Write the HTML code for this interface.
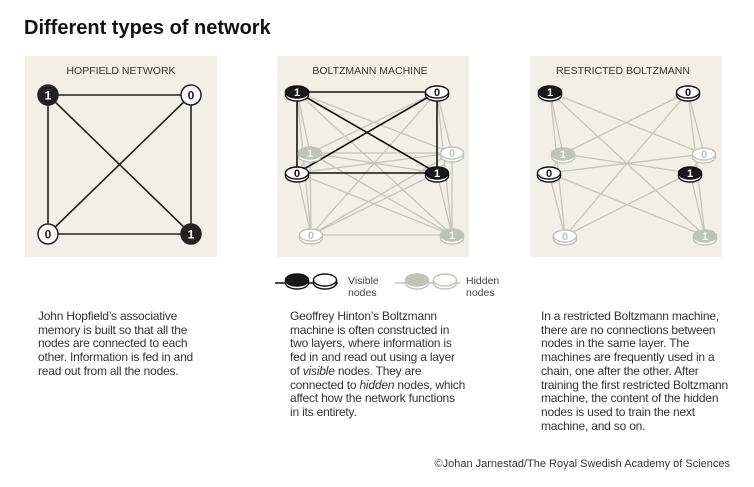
<!DOCTYPE html>
<html><head><meta charset="utf-8">
<style>
body{margin:0;background:#fff;width:754px;height:487px;overflow:hidden;font-family:"Liberation Sans",sans-serif;}
.t{position:absolute;font-size:12px;line-height:13.7px;color:#333;letter-spacing:-0.2px;white-space:nowrap;}
</style></head><body>
<svg id="s" width="754" height="487" style="position:absolute;left:0;top:0" font-family="Liberation Sans, sans-serif">
<text x="24" y="34" font-size="20" font-weight="bold" fill="#111">Different types of network</text>
<rect x="25" y="56" width="192" height="201" fill="#f2efe8"/>
<rect x="277" y="56" width="192" height="201" fill="#f2efe8"/>
<rect x="530" y="56" width="192" height="201" fill="#f2efe8"/>
<text x="121" y="74" font-size="10.5" text-anchor="middle" fill="#333">HOPFIELD NETWORK</text>
<text x="370" y="74" font-size="10.5" text-anchor="middle" fill="#333">BOLTZMANN MACHINE</text>
<text x="623" y="74" font-size="10.5" text-anchor="middle" fill="#333">RESTRICTED BOLTZMANN</text>
<g stroke="#222" stroke-width="1.6">
<line x1="48" y1="95" x2="191" y2="95"/><line x1="48" y1="234" x2="191" y2="234"/>
<line x1="48" y1="95" x2="48" y2="234"/><line x1="191" y1="95" x2="191" y2="234"/>
<line x1="48" y1="95" x2="191" y2="234"/><line x1="191" y1="95" x2="48" y2="234"/>
</g>
<g font-size="12" font-weight="bold" text-anchor="middle">
<circle cx="48" cy="95" r="10" fill="#222" stroke="#222" stroke-width="1.5"/><text x="48" y="99.5" fill="#fff">1</text>
<circle cx="191" cy="95" r="10" fill="#fff" stroke="#222" stroke-width="1.5"/><text x="191" y="99.5" fill="#222">0</text>
<circle cx="48" cy="234" r="10" fill="#fff" stroke="#222" stroke-width="1.5"/><text x="48" y="238.5" fill="#222">0</text>
<circle cx="191" cy="234" r="10" fill="#222" stroke="#222" stroke-width="1.5"/><text x="191" y="238.5" fill="#fff">1</text>
</g>
<g id="net"></g>
<text x="348" y="284" font-size="10.5" fill="#444">Visible</text>
<text x="348" y="296" font-size="10.5" fill="#444">nodes</text>
<text x="466" y="284" font-size="10.5" fill="#444">Hidden</text>
<text x="466" y="296" font-size="10.5" fill="#444">nodes</text>
<text x="730" y="467" font-size="11" text-anchor="end" fill="#333">©Johan Jarnestad/The Royal Swedish Academy of Sciences</text>
</svg>
<div class="t" style="left:38px;top:310px;">John Hopfield’s associative<br>memory is built so that all the<br>nodes are connected to each<br>other. Information is fed in and<br>read out from all the nodes.</div>
<div class="t" style="left:290px;top:310px;">Geoffrey Hinton’s Boltzmann<br>machine is often constructed in<br>two layers, where information is<br>fed in and read out using a layer<br>of <i>visible</i> nodes. They are<br>connected to <i>hidden</i> nodes, which<br>affect how the network functions<br>in its entirety.</div>
<div class="t" style="left:541px;top:310px;">In a restricted Boltzmann machine,<br>there are no connections between<br>nodes in the same layer. The<br>machines are frequently used in a<br>chain, one after the other. After<br>training the first restricted Boltzmann<br>machine, the content of the hidden<br>nodes is used to train the next<br>machine, and so on.</div>
<script>
var NS="http://www.w3.org/2000/svg",g=document.getElementById('net');
function el(t,a,p){var e=document.createElementNS(NS,t);for(var k in a)e.setAttribute(k,a[k]);(p||g).appendChild(e);return e;}
function line(a,b,c,w){el('line',{x1:a[0],y1:a[1],x2:b[0],y2:b[1],stroke:c,'stroke-width':w});}
function disc(x,y,type,txt){
  var h=type[0]=='h',f=type[1]=='f';
  var sc=h?'#bfc3b8':'#111', top=f?(h?'#bfc3b8':'#1a1a1a'):'#fff', tc=f?'#fff':(h?'#bfc3b8':'#111');
  el('ellipse',{cx:x,cy:y+3,rx:11.5,ry:6,fill:'#fff',stroke:sc,'stroke-width':1.4});
  el('rect',{x:x-11.5,y:y,width:23,height:3,fill:'#fff'});
  el('line',{x1:x-11.5,y1:y,x2:x-11.5,y2:y+3,stroke:sc,'stroke-width':1.4});
  el('line',{x1:x+11.5,y1:y,x2:x+11.5,y2:y+3,stroke:sc,'stroke-width':1.4});
  el('ellipse',{cx:x,cy:y,rx:11.5,ry:6,fill:top,stroke:sc,'stroke-width':1.4});
  if(txt!==undefined){var t=el('text',{x:x,y:y+4,'font-size':11,'font-weight':'bold','text-anchor':'middle',fill:tc});t.textContent=txt;}
}
var GR='#c3c6bd';
var V=[[297,92,'vf','1'],[437,92,'vw','0'],[297,173,'vw','0'],[437,173,'vf','1']];
var H=[[310,153,'hf','1'],[452,153,'hw','0'],[311,235,'hw','0'],[452,235,'hf','1']];
var all=V.concat(H);
for(var i=0;i<8;i++)for(var j=i+1;j<8;j++){if(i<4&&j<4)continue;line(all[i],all[j],GR,1.3);}
for(var i=0;i<4;i++)for(var j=i+1;j<4;j++)line(V[i],V[j],'#111',1.6);
H.forEach(function(n){disc(n[0],n[1],n[2],n[3]);});
V.forEach(function(n){disc(n[0],n[1],n[2],n[3]);});
var V2=[[550,92,'vf','1'],[688,92,'vw','0'],[549,173,'vw','0'],[690,173,'vf','1']];
var H2=[[563,154,'hf','1'],[704,154,'hw','0'],[565,236,'hw','0'],[705,236,'hf','1']];
V2.forEach(function(a){H2.forEach(function(b){line(a,b,GR,1.3);});});
H2.forEach(function(n){disc(n[0],n[1],n[2],n[3]);});
V2.forEach(function(n){disc(n[0],n[1],n[2],n[3]);});
line([275,283],[338,283],'#111',1.4);
disc(297,280,'vf');disc(325,280,'vw');
line([395,283],[460,283],GR,1.4);
disc(417,280,'hf');disc(445,280,'hw');
</script>
</body></html>
